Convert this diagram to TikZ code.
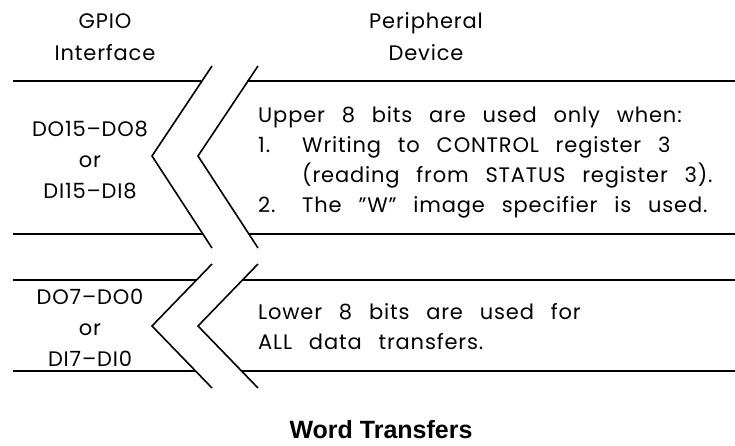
\documentclass[tikz,border=0pt]{standalone}
\usepackage{fontspec}
\setmainfont{Poppins}[LetterSpace=4]
\newfontfamily\titlefont{Liberation Sans}
\usetikzlibrary{positioning}
\newcommand\widespaces{\spaceskip=0.8em\relax}
\newcommand\itemno[1]{\makebox[44pt][l]{#1}}
\tikzset{
  lbl/.style={font=\fontsize{21}{31}\selectfont, inner sep=0pt, align=center},
  note/.style={font=\fontsize{21}{30}\selectfont, inner sep=0pt,
    align=left, anchor=north west},
  bus/.style={line width=1.6pt},
  brk/.style={line width=1.6pt, line join=miter},
}

\begin{document}
\begin{tikzpicture}[x=1pt, y=-1pt]
  \useasboundingbox (0,0) rectangle (735,446);
  % column headings
  \node[lbl, font=\fontsize{21}{32}\selectfont] (gpio) at (105,37) {GPIO\\Interface};
  \node[lbl, font=\fontsize{21}{32}\selectfont] (periph) at (426,37) {Peripheral\\Device};
  % upper byte
  \foreach \y in {81, 234} {
    \draw[bus] (13,\y) -- ({152+60*abs(\y-156)/91.5},\y);
    \draw[bus] ({198+60*abs(\y-156)/91.5},\y) -- (735,\y);
  }
  \draw[brk] (212,66) -- (152,156) -- (212,248);
  \draw[brk] (258,66) -- (198,156) -- (258,248);
  \node[lbl] (hibits) at (90,160) {DO15--DO8\\or\\DI15--DI8};
  \node[note] (hinote) at (258,106) {\widespaces Upper 8 bits are used only when:\\
    \widespaces\itemno{1.}Writing to CONTROL register 3\\
    \widespaces\itemno{}(reading from STATUS register 3).\\
    \widespaces\itemno{2.}The "W" image specifier is used.};
  % lower byte
  \foreach \y in {280, 371} {
    \draw[bus] (13,\y) -- ({152+60*abs(\y-326)/62},\y);
    \draw[bus] ({198+60*abs(\y-326)/62},\y) -- (735,\y);
  }
  \draw[brk] (212,264) -- (152,326) -- (212,388);
  \draw[brk] (258,264) -- (198,326) -- (258,388);
  \node[lbl] (lobits) at (90,328) {DO7--DO0\\or\\DI7--DI0};
  \node[note] (lonote) at (258,303) {\widespaces Lower 8 bits are used for\\
    \widespaces ALL data transfers.};
  % caption
  \node[font=\titlefont\bfseries\fontsize{25}{28}\selectfont] (title) at (381,430) {Word Transfers};
\end{tikzpicture}
\end{document}
